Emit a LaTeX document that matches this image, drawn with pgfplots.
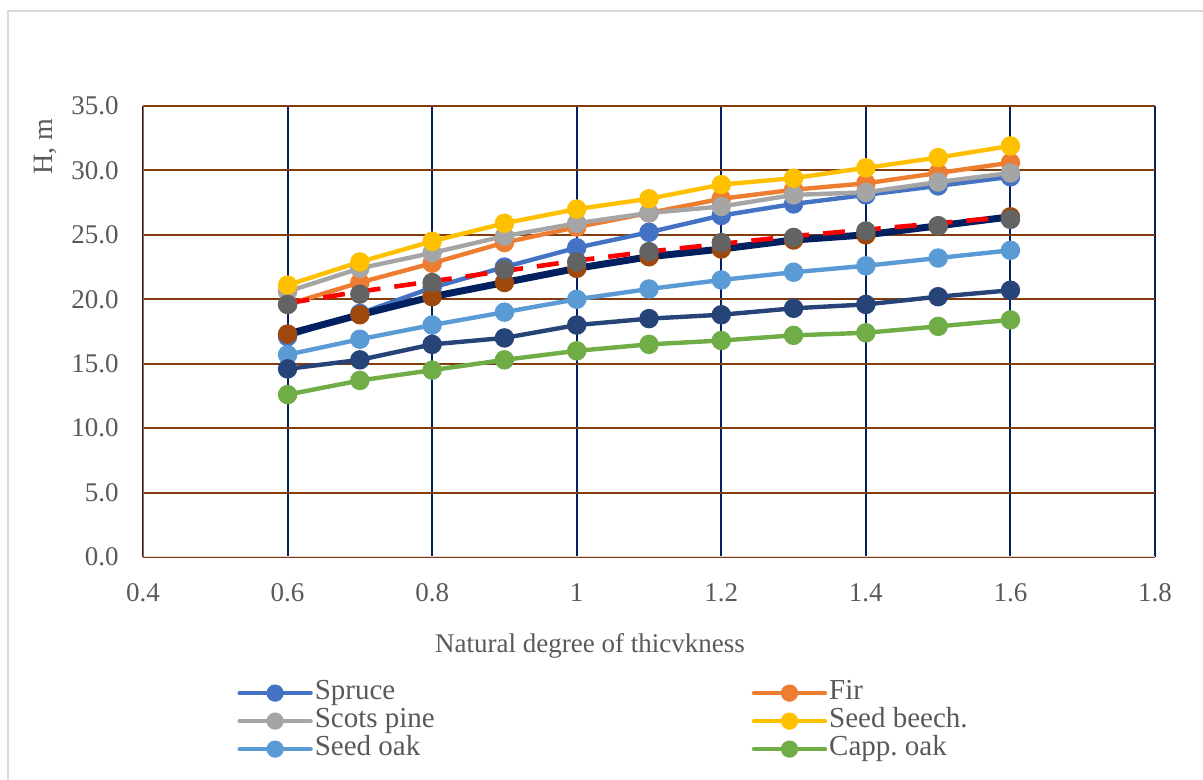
\documentclass[border=0pt]{standalone}
\usepackage{pgfplots}
\usepackage{pgfplotstable}
\pgfplotsset{compat=1.18}
\usepackage{fontspec}
\setmainfont{Liberation Serif}
\frenchspacing
\definecolor{cSpruce}{HTML}{4472C4}
\definecolor{cFir}{HTML}{ED7D31}
\definecolor{cPine}{HTML}{A5A5A5}
\definecolor{cBeech}{HTML}{FFC000}
\definecolor{cSeedOak}{HTML}{5B9BD5}
\definecolor{cCapp}{HTML}{70AD47}
\definecolor{cDarkBlue}{HTML}{264478}
\definecolor{cBrown}{HTML}{9E480E}
\definecolor{cDGray}{HTML}{636363}
\definecolor{cNavy}{HTML}{002060}
\definecolor{cGridH}{HTML}{843C0C}
\definecolor{cLeft}{HTML}{C55A11}
\definecolor{cBottom}{HTML}{D9D9D9}
\definecolor{cText}{HTML}{595959}
\definecolor{cFrame}{HTML}{D9D9D9}
\newcommand{\legtxt}[1]{\makebox[218.5pt][l]{#1}}

\pgfplotstableread{
x    spruce fir  pine beech seedoak darkblue capp brown dgray red
0.6  17.1   19.6 20.6 21.1  15.7    14.6     12.6 17.3  19.6  19.7
0.7  18.9   21.3 22.4 22.9  16.9    15.3     13.7 18.8  20.4  20.6
0.8  20.9   22.8 23.6 24.5  18.0    16.5     14.5 20.2  21.3  21.4
0.9  22.5   24.4 24.9 25.9  19.0    17.0     15.3 21.3  22.3  22.2
1.0  24.0   25.6 25.9 27.0  20.0    18.0     16.0 22.4  22.9  23.0
1.1  25.2   26.7 26.7 27.8  20.8    18.5     16.5 23.3  23.7  23.7
1.2  26.5   27.8 27.2 28.9  21.5    18.8     16.8 23.9  24.4  24.3
1.3  27.4   28.5 28.1 29.4  22.1    19.3     17.2 24.6  24.8  24.9
1.4  28.1   29.0 28.3 30.2  22.6    19.6     17.4 25.0  25.3  25.4
1.5  28.8   29.8 29.1 31.0  23.2    20.2     17.9 25.7  25.7  25.9
1.6  29.5   30.6 29.8 31.9  23.8    20.7     18.4 26.4  26.2  26.4
}\datatable

\begin{document}
\begin{tikzpicture}
\clip (0,0) rectangle (601.5pt,390pt);
\draw[color=cFrame, line width=1pt] (4pt,-20pt) rectangle (640pt,384.25pt);
\begin{axis}[
  at={(71.5pt,111.5pt)}, anchor=south west,
  scale only axis, width=506pt, height=225.5pt,
  xmin=0.4, xmax=1.8, ymin=0, ymax=35,
  xtick={0.4,0.6,0.8,1,1.2,1.4,1.6,1.8},
  ytick={0,5,10,15,20,25,30,35},
  major tick length=0pt,
  grid=major,
  x grid style={color=cNavy, line width=1pt},
  y grid style={color=cGridH, line width=1pt},
  axis line style={draw=none},
  /pgf/number format/assume math mode=true,
  tick label style={font=\rmfamily\fontsize{13.5}{16}\selectfont, text=cText},
  yticklabel style={inner sep=0pt, xshift=-12pt, /pgf/number format/.cd, fixed, fixed zerofill, precision=1},
  xticklabel style={inner sep=0pt, yshift=-13pt},
  legend columns=2,
  legend style={at={(0.0929,-0.271)}, anchor=north west, draw=none, fill=none,
    inner sep=0pt, column sep=0pt, row sep=0.5pt,
    font=\rmfamily\fontsize{14.5}{16}\selectfont, text=cText,
    nodes={inner sep=0pt, text height=10pt, text depth=3.5pt}},
  legend image code/.code={%
    \draw[mark repeat=2, mark phase=2, mark size=3.2pt, line cap=round, #1] plot coordinates {(0pt,0pt) (17.75pt,0pt) (35.5pt,0pt)};
    \path (36.5pt,0pt);},
  every axis plot/.append style={line width=2.2pt, mark=*, mark size=3.75pt},
]
\addplot[color=cSpruce, mark options={fill=cSpruce, draw=cSpruce}] table[x=x, y=spruce] {\datatable};
\addlegendentry{\legtxt{Spruce}}
\addplot[color=cFir, mark options={fill=cFir, draw=cFir}] table[x=x, y=fir] {\datatable};
\addlegendentry{\legtxt{Fir}}
\addplot[color=cPine, mark options={fill=cPine, draw=cPine}] table[x=x, y=pine] {\datatable};
\addlegendentry{\legtxt{Scots pine}}
\addplot[color=cBeech, mark options={fill=cBeech, draw=cBeech}] table[x=x, y=beech] {\datatable};
\addlegendentry{\legtxt{Seed beech.}}
\addplot[color=cSeedOak, mark options={fill=cSeedOak, draw=cSeedOak}] table[x=x, y=seedoak] {\datatable};
\addlegendentry{\legtxt{Seed oak}}
\addplot[color=cCapp, mark options={fill=cCapp, draw=cCapp}] table[x=x, y=capp] {\datatable};
\addlegendentry{\legtxt{Capp. oak}}
\addplot[forget plot, color=cDarkBlue, mark options={fill=cDarkBlue, draw=cDarkBlue}] table[x=x, y=darkblue] {\datatable};
\addplot[forget plot, color=cNavy, line width=3.5pt, mark=none] table[x=x, y=brown] {\datatable};
\addplot[forget plot, only marks, color=cBrown, mark options={fill=cBrown, draw=cBrown}] table[x=x, y=brown] {\datatable};
\addplot[forget plot, color=red, line width=2.3pt, mark=none, dash pattern=on 11pt off 7pt] table[x=x, y=red] {\datatable};
\addplot[forget plot, only marks, color=cDGray, mark options={fill=cDGray, draw=cDGray}] table[x=x, y=dgray] {\datatable};
\draw[color=cBottom, line width=1pt] (rel axis cs:0,0) -- (rel axis cs:1,0);
\draw[color=cLeft, line width=1pt] (rel axis cs:0,0) -- (rel axis cs:0,1);
\end{axis}
\node[rotate=90, font=\fontsize{14}{16}\selectfont, text=cText] at (22.5pt,316.5pt) {H, m};
\node[font=\fontsize{13.5}{16}\selectfont, text=cText] at (295pt,67pt) {Natural degree of thicvkness};
\end{tikzpicture}
\end{document}
